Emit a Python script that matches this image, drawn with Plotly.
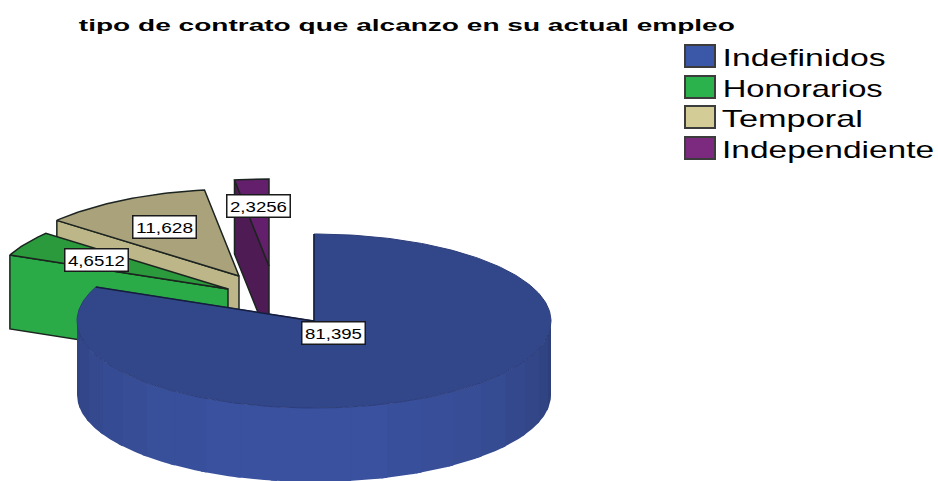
import json
import math
import plotly.graph_objects as go

# Survey results, percent of respondents
categories = ["Indefinidos", "Honorarios", "Temporal", "Independiente"]
values = [81.395, 4.6512, 11.628, 2.3256]

top_colors = ["#32478a", "#2a9a3c", "#a9a27b", "#641f6c"]
side_colors = ["#3a52a0", "#2bab47", "#bdb688", "#4f1b54"]
legend_colors = ["#3b57a8", "#2bb24c", "#d3cc96", "#7b2a80"]

# Pixel geometry of the tilted pie
WIDTH, HEIGHT = 938, 481
CENTER = (314, 321)
RX, RY = 237, 87
DEPTH = 74
EXPLODE = [(0, 0), (-86, -32), (-75, -45), (-45, -55)]
OUTLINE = "#1c2420"

fig = go.Figure()


def rim(cx, cy, angle):
    """Point on the pie's elliptical rim; angle runs clockwise from 12 o'clock."""
    a = math.radians(angle)
    return cx + RX * math.sin(a), cy - RY * math.cos(a)


def arc(cx, cy, start, end, step=1.0):
    n = max(2, int(abs(end - start) / step))
    return [rim(cx, cy, start + (end - start) * i / n) for i in range(n + 1)]


def polygon(points, fill, line=None, width=1.5):
    fig.add_trace(go.Scatter(
        x=[p[0] for p in points] + [points[0][0]],
        y=[p[1] for p in points] + [points[0][1]],
        mode="lines", fill="toself", fillcolor=fill,
        line=dict(color=line or fill, width=width if line else 0),
        hoverinfo="skip", showlegend=False,
    ))


def drop(points):
    return [(x, y + DEPTH) for x, y in points]


# Cumulative start and end angle of each slice
spans = []
running = 0.0
total = sum(values)
for v in values:
    spans.append((running, running + v / total * 360))
    running += v / total * 360

# Detached slices, drawn from back to front
for i in (3, 2, 1):
    start, end = spans[i]
    cx, cy = CENTER[0] + EXPLODE[i][0], CENTER[1] + EXPLODE[i][1]
    apex = (cx, cy)
    edge = rim(cx, cy, start)
    polygon([edge, apex, *drop([apex, edge])], side_colors[i], OUTLINE)
    polygon([apex, *arc(cx, cy, start, end)], top_colors[i], OUTLINE)

# Outer wall of the main slice, shaded in vertical bands that overlap slightly
cx, cy = CENTER
BAND = 9.0
angle = 90.0
while angle < 270.0:
    next_angle = min(angle + BAND, 270.0)
    upper = arc(cx, cy, angle, min(next_angle + 1.5, 270.0), 1.0)
    mid = (angle + next_angle) / 2
    shade = max(0.0, math.cos(math.radians(mid - 185))) ** 0.8
    r = int(46 + (58 - 46) * shade)
    g = int(63 + (82 - 63) * shade)
    b = int(122 + (160 - 122) * shade)
    polygon(upper + drop(upper)[::-1], f"rgb({r},{g},{b})")
    angle = next_angle

# Main slice top face and its two cut edges
start, end = spans[0]
top_rim = arc(cx, cy, start, end)
polygon([(cx, cy), *top_rim], top_colors[0], "#2c3c7a", 1)
left_edge = rim(cx, cy, end)
right_edge = rim(cx, cy, start)
fig.add_trace(go.Scatter(
    x=[left_edge[0], cx, right_edge[0]], y=[left_edge[1], cy, right_edge[1]],
    mode="lines", line=dict(color="#151d3c", width=1.5),
    hoverinfo="skip", showlegend=False,
))

# Run length of each caption, which is set wide
TITLE = "tipo de contrato que alcanzo en su actual empleo"
text_widths = {
    TITLE: 656, "Indefinidos": 163, "Honorarios": 160,
    "Temporal": 141, "Independiente": 212,
}
for v in values:
    text_widths[f"{v:.5g}".replace(".", ",")] = 57

# Legend swatches and captions
legend_y = [56, 87, 117, 148]
for name, color, y in zip(categories, legend_colors, legend_y):
    fig.add_shape(type="rect", xref="x", yref="y", x0=685, x1=715, y0=y - 11, y1=y + 11,
                  fillcolor=color, line=dict(color="#3c3c3c", width=2))
    fig.add_annotation(x=722 + text_widths[name] / 2, y=y + 1, text=name, showarrow=False,
                       xref="x", yref="y",
                       font=dict(family="Liberation Sans", size=24, color="#000000"))

# Value labels
label_pos = [(333, 333), (96, 260), (164, 227), (258, 206)]
for v, (x, y) in zip(values, label_pos):
    fig.add_annotation(
        x=x, y=y, xref="x", yref="y", showarrow=False,
        text=f"{v:.5g}".replace(".", ","),
        width=62, height=21, bgcolor="#ffffff", bordercolor="#1a1a1a", borderwidth=1.5,
        borderpad=0, font=dict(family="Liberation Sans", size=15, color="#000000"),
    )

fig.add_annotation(x=79 + text_widths[TITLE] / 2, y=25, text=f"<b>{TITLE}</b>", showarrow=False,
                   xref="x", yref="y",
                   font=dict(family="Liberation Sans", size=17, color="#000000"))

fig.update_layout(
    width=WIDTH, height=HEIGHT, margin=dict(l=0, r=0, t=0, b=0),
    paper_bgcolor="#ffffff", plot_bgcolor="#ffffff", showlegend=False,
    xaxis=dict(range=[0, WIDTH], visible=False, fixedrange=True),
    yaxis=dict(range=[HEIGHT, 0], visible=False, fixedrange=True),
)

stretch = """
document.querySelectorAll('text.annotation-text').forEach(function (t) {
  var w = %s[t.textContent];
  if (w) {
    t.setAttribute('textLength', w);
    t.setAttribute('lengthAdjust', 'spacingAndGlyphs');
  }
});
""" % json.dumps(text_widths)

fig.write_html("out.html", post_script=stretch, config={"displayModeBar": False})
